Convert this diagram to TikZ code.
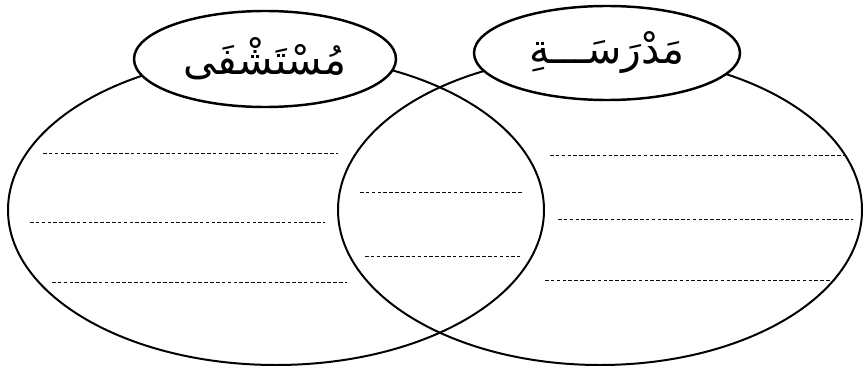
\documentclass[tikz,border=0pt]{standalone}
\usepackage{fontspec}
\usetikzlibrary{shapes.geometric}
\TeXXeTstate=1
\newfontfamily\arabicfont[Script=Arabic]{DejaVu Sans}

\tikzset{
  bigring/.style={line width=1.7pt},
  titlering/.style={draw, ellipse, line width=2.1pt, fill=white, inner sep=0pt,
    font=\fontsize{35}{40}\selectfont\arabicfont},
  writeline/.style={line width=0.6pt, dash pattern=on 3pt off 2pt, black!85!violet},
}

\begin{document}
\begin{tikzpicture}[x=0.03cm, y=-0.03cm]
    \useasboundingbox (0,0) rectangle (867,369);

    % Two overlapping sets
    \draw[bigring] (276,210) ellipse [x radius=268, y radius=155];
    \draw[bigring] (600,210) ellipse [x radius=262, y radius=155];

    % Lines to write on
    \foreach \ya/\xa/\xb in {153/43/338, 222/30/325, 282/52/347}
        \draw[writeline] (\xa,\ya) -- (\xb,\ya);
    \foreach \ya/\xa/\xb in {192/360/523, 256/365/520}
        \draw[writeline] (\xa,\ya) -- (\xb,\ya);
    \foreach \ya/\xa/\xb in {155/550/845, 219/558/853, 280/545/835}
        \draw[writeline] (\xa,\ya) -- (\xb,\ya);

    % Set titles
    \node[titlering, minimum width=7.86cm, minimum height=2.88cm]
        (hospital) at (265,59) {\beginR مُسْتَشْفَى\endR};
    \node[titlering, minimum width=7.98cm, minimum height=2.82cm]
        (school) at (607,53) {\beginR مَدْرَسَـــةِ\endR};
\end{tikzpicture}
\end{document}
